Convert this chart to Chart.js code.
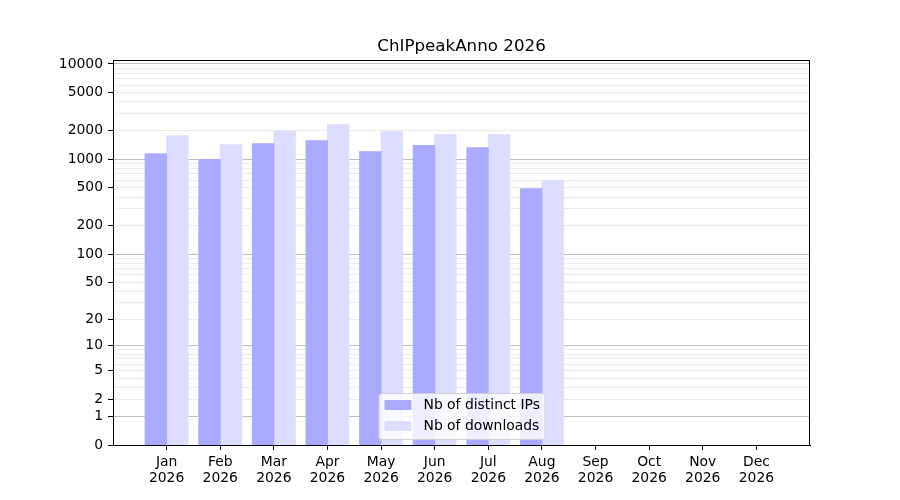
<!DOCTYPE html>
<html>
<head>
<meta charset="utf-8">
<title>ChIPpeakAnno 2026</title>
<script src="https://cdn.jsdelivr.net/npm/chart.js@4.4.1/dist/chart.umd.min.js"></script>
<style>
    html, body { margin: 0; padding: 0; background: #ffffff; }
    #wrap { width: 900px; height: 500px; }
</style>
</head>
<body>
<div id="wrap"><canvas id="grafico" width="900" height="500"></canvas></div>
<script>
// Datos del gráfico
const titulo = 'ChIPpeakAnno 2026';
const anio = '2026';
const meses = ['Jan', 'Feb', 'Mar', 'Apr', 'May', 'Jun', 'Jul', 'Aug', 'Sep', 'Oct', 'Nov', 'Dec'];
const ipsDistintas = [1140, 990, 1450, 1560, 1200, 1390, 1320, 490];
const descargas = [1760, 1420, 1960, 2300, 1940, 1800, 1800, 595];
const ticksY = [0, 1, 2, 3, 4, 5, 6, 7, 8, 9, 10, 20, 30, 40, 50, 60, 70, 80, 90,
    100, 200, 300, 400, 500, 600, 700, 800, 900, 1000, 2000, 3000, 4000, 5000,
    6000, 7000, 8000, 9000, 10000];
const ticksYConEtiqueta = [0, 1, 2, 5, 10, 20, 50, 100, 200, 500, 1000, 2000, 5000, 10000];
const ticksYMayores = [1, 10, 100, 1000, 10000];
const maxY = 11000;

const FUENTE = "'DejaVu Sans', sans-serif";

/**
 * Escala log10(1 + x), para poder mostrar el cero
 */
class Log1pScale extends Chart.Scale {
    parse(raw) {
        const v = +raw;
        return isFinite(v) ? v : null;
    }
    determineDataLimits() {
        this.min = this.options.min ?? 0;
        this.max = this.options.max ?? 10;
    }
    buildTicks() {
        return (this.options.valores || []).map(v => ({ value: v }));
    }
    configure() {
        super.configure();
        this._startValue = Math.log10(1 + this.min);
        this._valueRange = Math.log10(1 + this.max) - this._startValue;
    }
    getLabelForValue(value) {
        return String(value);
    }
    getPixelForValue(value) {
        if (value === null || value === undefined || isNaN(value)) return NaN;
        return this.getPixelForDecimal((Math.log10(1 + value) - this._startValue) / this._valueRange);
    }
    getValueForPixel(pixel) {
        return Math.pow(10, this._startValue + this.getDecimalForPixel(pixel) * this._valueRange) - 1;
    }
}
Log1pScale.id = 'log1p';
Log1pScale.defaults = {};
Chart.register(Log1pScale);

/**
 * Marco, título y leyenda al estilo matplotlib
 */
const pluginDecoracion = {
    id: 'decoracion',
    afterDraw(chart) {
        const ctx = chart.ctx;
        const area = chart.chartArea;
        ctx.save();

        // Marco
        ctx.strokeStyle = '#000000';
        ctx.lineWidth = 1;
        ctx.strokeRect(Math.round(area.left) + 0.5, Math.round(area.top) + 0.5,
            Math.round(area.right - area.left) - 1, Math.round(area.bottom - area.top));

        // Título
        ctx.fillStyle = '#000000';
        ctx.font = '16.7px ' + FUENTE;
        ctx.textAlign = 'center';
        ctx.textBaseline = 'alphabetic';
        ctx.fillText(titulo, (area.left + area.right) / 2, area.top - 9);

        // Leyenda (abajo al centro)
        const ancho = 166, alto = 46;
        const x0 = (area.left + area.right) / 2 - ancho / 2;
        const y0 = area.bottom - 6 - alto;
        ctx.beginPath();
        ctx.roundRect(x0 + 0.5, y0 + 0.5, ancho, alto, 3);
        ctx.fillStyle = 'rgba(255, 255, 255, 0.8)';
        ctx.fill();
        ctx.strokeStyle = '#d0d0d0';
        ctx.stroke();

        ctx.font = '13.9px ' + FUENTE;
        ctx.textAlign = 'left';
        ctx.textBaseline = 'middle';
        chart.data.datasets.forEach((ds, i) => {
            const yc = y0 + 12 + i * 21;
            ctx.fillStyle = ds.backgroundColor;
            ctx.fillRect(x0 + 6, yc - 5, 27, 10);
            ctx.fillStyle = '#000000';
            ctx.fillText(ds.label, x0 + 45, yc);
        });
        ctx.restore();
    }
};

function initGrafico() {
    const canvas = document.getElementById('grafico');
    const ctx = canvas.getContext('2d');

    new Chart(ctx, {
        type: 'bar',
        data: {
            datasets: [
                {
                    label: 'Nb of distinct IPs',
                    data: ipsDistintas.map((v, i) => ({ x: i, y: v })),
                    backgroundColor: '#aaaaff',
                    borderWidth: 0,
                    inflateAmount: 0.5
                },
                {
                    label: 'Nb of downloads',
                    data: descargas.map((v, i) => ({ x: i, y: v })),
                    backgroundColor: '#ddddff',
                    borderWidth: 0,
                    inflateAmount: 0.5
                }
            ]
        },
        options: {
            responsive: false,
            animation: false,
            devicePixelRatio: 1,
            categoryPercentage: 0.8,
            barPercentage: 1.0,
            layout: { padding: { left: 0, top: 60, right: 90, bottom: 0 } },
            plugins: {
                legend: { display: false },
                title: { display: false },
                tooltip: { enabled: false }
            },
            scales: {
                x: {
                    type: 'linear',
                    min: -1,
                    max: 12,
                    offset: false,
                    z: 1,
                    afterBuildTicks: scale => {
                        scale.ticks = meses.map((m, i) => ({ value: i }));
                    },
                    afterFit: scale => { scale.height = 55; },
                    border: { display: true, color: '#000000', width: 1 },
                    grid: {
                        offset: false,
                        drawOnChartArea: false,
                        drawTicks: true,
                        tickLength: 5,
                        tickColor: '#000000'
                    },
                    ticks: {
                        autoSkip: false,
                        maxRotation: 0,
                        padding: 4,
                        color: '#000000',
                        font: { family: FUENTE, size: 13.9, lineHeight: 1.15 },
                        callback: value => [meses[value], anio]
                    }
                },
                y: {
                    type: 'log1p',
                    min: 0,
                    max: maxY,
                    valores: ticksY,
                    z: 1,
                    afterFit: scale => { scale.width = 113; },
                    border: { display: true, color: '#000000', width: 1 },
                    grid: {
                        drawTicks: true,
                        tickLength: 5,
                        lineWidth: 1,
                        color: c => ticksYMayores.includes(c.tick.value)
                            ? 'rgba(0, 0, 0, 0.25)'
                            : 'rgba(0, 0, 0, 0.08)',
                        tickColor: c => ticksYConEtiqueta.includes(c.tick.value)
                            ? '#000000'
                            : 'rgba(0, 0, 0, 0)'
                    },
                    ticks: {
                        autoSkip: false,
                        padding: 5,
                        color: '#000000',
                        font: { family: FUENTE, size: 13.9 },
                        callback: value => ticksYConEtiqueta.includes(value) ? String(value) : ''
                    }
                }
            }
        },
        plugins: [pluginDecoracion]
    });
}

document.addEventListener('DOMContentLoaded', initGrafico);
</script>
</body>
</html>
